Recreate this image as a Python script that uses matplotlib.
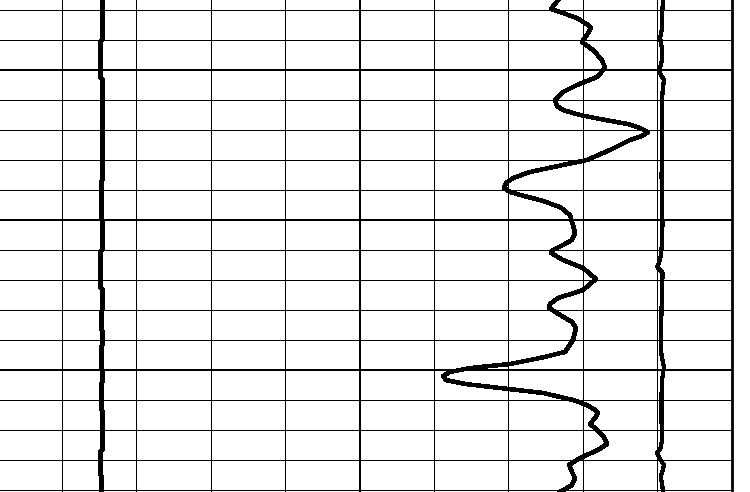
"""Well log track: grid with three curves (GR-like wiggle, two near-straight logs)."""
import numpy as np
import matplotlib
matplotlib.use('Agg')
import matplotlib.pyplot as plt

# ── data (depth in ft, value in track units 0-100) ─────────────────────────
gr_depth = [995.35, 995.95, 996.55, 997.02, 997.22, 997.69, 998.15, 998.69,
            999.35, 999.89, 1000.49, 1001.02, 1001.49, 1002.02, 1002.42,
            1002.69, 1003.02, 1003.35, 1003.62, 1003.89, 1004.15, 1004.42,
            1004.69, 1005.35, 1006.02, 1006.35, 1006.82, 1007.22, 1007.55,
            1007.89, 1008.15, 1008.35, 1008.69, 1009.15, 1009.69, 1010.35,
            1010.89, 1011.35, 1011.69, 1012.02, 1012.22, 1012.69, 1013.22,
            1013.95, 1014.69, 1015.22, 1015.62, 1015.89, 1016.35, 1016.82,
            1017.22, 1018.02, 1018.82, 1019.22, 1019.62, 1019.89, 1020.15,
            1020.42, 1020.69, 1020.95, 1021.22, 1021.55, 1022.02, 1022.35,
            1022.69, 1022.89, 1023.22, 1023.62, 1024.02, 1024.49, 1024.95,
            1025.35, 1025.89, 1026.35, 1026.82, 1027.22, 1027.69, 1028.15]
gr_value = [76.67, 75.73, 79.22, 80.70, 81.10, 80.56, 79.89, 81.37,
            82.58, 82.98, 81.91, 79.22, 77.34, 76.26, 76.53,
            77.34, 79.62, 82.98, 86.08, 87.69, 88.76, 87.96,
            86.34, 83.66, 80.56, 77.34, 72.90, 70.62, 69.68,
            69.41, 70.22, 71.56, 74.25, 76.94, 78.28, 78.68,
            78.95, 78.55, 77.34, 75.99, 75.73, 77.34, 80.03,
            81.77, 80.03, 76.67, 75.59, 75.46, 76.94, 78.55,
            79.09, 78.68, 77.61, 74.25, 70.22, 64.84, 62.15,
            61.21, 61.61, 64.17, 68.87, 74.65, 78.68, 80.56,
            81.64, 82.04, 81.64, 80.97, 81.91, 82.85, 83.25,
            82.04, 79.62, 78.15, 78.55, 78.95, 78.55, 76.94]

# left curve: blocky, changes in small steps
sp_bounds = [995.35, 998.02, 1000.55, 1007.35, 1010.02, 1012.02, 1014.55,
             1016.02, 1017.35, 1018.35, 1020.02, 1020.82, 1022.69, 1025.35,
             1027.02, 1028.15]
sp_value = [15.31, 15.11, 15.31, 15.22, 15.31, 15.17, 15.34, 15.20,
            15.31, 15.24, 15.34, 15.20, 15.34, 15.17, 15.24]

# right curve: near-constant with small wiggles
cal_depth = [995.35, 996.35, 997.35, 997.89, 998.22, 998.69, 999.35, 999.75,
             1000.02, 1000.35, 1000.69, 1001.35, 1002.35, 1004.02, 1005.35,
             1007.02, 1008.69, 1010.35, 1012.02, 1012.69, 1013.15, 1013.55,
             1014.35, 1016.02, 1017.69, 1018.69, 1019.35, 1019.82, 1020.69,
             1021.69, 1023.35, 1024.69, 1025.22, 1025.55, 1025.95, 1026.35,
             1026.75, 1027.15, 1027.62, 1028.15]
cal_value = [90.78, 90.65, 90.61, 90.38, 90.51, 90.68, 90.65, 90.44,
             90.15, 90.51, 90.91, 90.74, 90.61, 90.61, 90.68,
             90.58, 90.65, 90.71, 90.58, 90.38, 90.01, 90.74,
             90.65, 90.58, 90.51, 90.47, 90.71, 90.91, 90.65,
             90.58, 90.58, 90.65, 90.44, 90.01, 90.38, 90.91,
             90.71, 90.47, 90.65, 90.78]

top, base = 995.353, 1028.153

fig = plt.figure(figsize=(7.5, 4.92), dpi=100)
ax = fig.add_axes([-12.4 / 750, 0, 744 / 750, 1])
ax.set_xlim(0, 100)
ax.set_ylim(base, top)

# grid
for x in range(10, 100, 10):
    ax.axvline(x, color='black', lw=1.3 if x == 50 else 0.7,
               antialiased=False, zorder=1)
for d in range(996, 1029, 2):
    ax.axhline(d, color='black', lw=1.3 if d % 10 == 0 else 0.7,
               antialiased=False, zorder=1)

for s in ['top', 'bottom', 'left']:
    ax.spines[s].set_visible(False)
ax.spines['right'].set_linewidth(2.0)
ax.set_xticks([])
ax.set_yticks([])

# curves
sp_x = np.repeat(sp_value, 2)
sp_y = np.column_stack([sp_bounds[:-1], sp_bounds[1:]]).ravel()
ax.plot(sp_x, sp_y, color='black', lw=2.2, antialiased=False, zorder=3)
ax.plot(gr_value, gr_depth, color='black', lw=2.5, solid_joinstyle='round',
        antialiased=False, zorder=3)
ax.plot(cal_value, cal_depth, color='black', lw=2.3, antialiased=False, zorder=3)

fig.savefig('out.png', dpi=100)
